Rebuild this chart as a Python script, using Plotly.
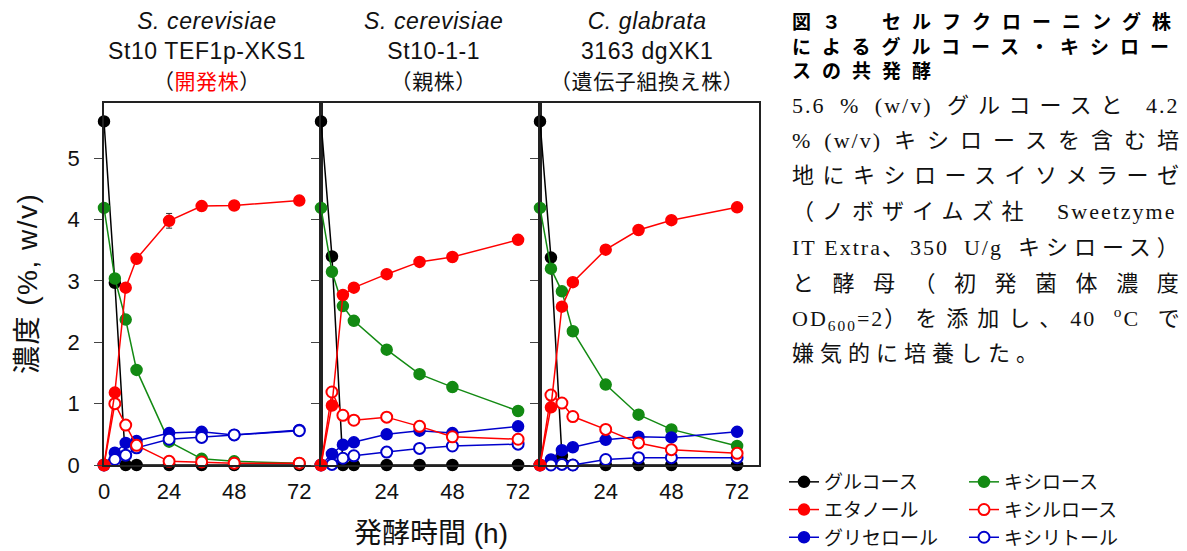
import re
import plotly.graph_objects as go

# Sampling times (h)
hours = [0, 4, 8, 12, 24, 36, 48, 72]

# S. cerevisiae St10 TEF1p-XKS1
dev_glucose = [5.60, 2.97, 0, 0, 0, 0, 0, 0]
dev_xylose = [4.19, 3.04, 2.37, 1.55, 0.38, 0.10, 0.06, 0.03]
dev_ethanol = [0, 1.18, 2.89, 3.36, 3.98, 4.22, 4.23, 4.31]
dev_ethanol_err = [0, 0, 0, 0, 0.12, 0, 0, 0]
dev_xylulose = [0, 1.00, 0.65, 0.32, 0.06, 0.05, 0.03, 0.03]
dev_glycerol = [0, 0.20, 0.36, 0.39, 0.52, 0.54, 0.49, 0.57]
dev_xylitol = [0, 0.09, 0.16, 0.28, 0.42, 0.45, 0.49, 0.56]

# S. cerevisiae St10-1-1
par_glucose = [5.60, 3.40, 0, 0, 0, 0, 0, 0]
par_xylose = [4.19, 3.15, 2.59, 2.35, 1.88, 1.48, 1.27, 0.88]
par_ethanol = [0, 0.97, 2.77, 2.89, 3.11, 3.31, 3.39, 3.67]
par_xylulose = [0, 1.19, 0.81, 0.73, 0.78, 0.63, 0.46, 0.42]
par_glycerol = [0, 0.18, 0.33, 0.37, 0.50, 0.56, 0.52, 0.63]
par_xylitol = [0, 0.01, 0.11, 0.15, 0.21, 0.27, 0.31, 0.34]

# C. glabrata 3163 dgXK1
cg_glucose = [5.60, 3.38, 0.15, 0, 0, 0, 0, 0]
cg_xylose = [4.19, 3.20, 2.83, 2.18, 1.31, 0.82, 0.58, 0.31]
cg_ethanol = [0, 0.94, 2.58, 2.98, 3.51, 3.83, 3.99, 4.20]
cg_xylulose = [0, 1.14, 1.01, 0.79, 0.58, 0.36, 0.25, 0.19]
cg_glycerol = [0, 0.09, 0.24, 0.29, 0.41, 0.46, 0.45, 0.54]
cg_xylitol = [0, 0, 0.01, 0, 0.09, 0.12, 0.12, 0.12]

panel_titles = [
    "<i>S. cerevisiae</i><br>St10 TEF1p-XKS1<br>"
    "<span style='font-size:21px'>（<span style='color:#ff0000'>開発株</span>）</span>",
    "<i>S. cerevisiae</i><br>St10-1-1<br><span style='font-size:21px'>（親株）</span>",
    "<i>C. glabrata</i><br>3163 dgXK1<br><span style='font-size:21px'>（遺伝子組換え株）</span>",
]
x_ticks = [[0, 24, 48, 72], [24, 48, 72], [24, 48, 72]]
y_ticks = [0, 1, 2, 3, 4, 5]

SANS = "Liberation Sans, Arial, Noto Sans CJK JP"
CJK = "Noto Sans CJK JP, Liberation Sans"
SERIF = "Liberation Serif, Noto Sans CJK JP"

BLACK, RED, GREEN, BLUE = "#000000", "#ff0000", "#138a13", "#0000cc"

# name, colour, filled marker, legend, rank, per-panel values (draw order = list order)
series = [
    ("グルコース", BLACK, True, "legend", 1, [dev_glucose, par_glucose, cg_glucose]),
    ("キシロース", GREEN, True, "legend2", 1, [dev_xylose, par_xylose, cg_xylose]),
    ("グリセロール", BLUE, True, "legend", 3, [dev_glycerol, par_glycerol, cg_glycerol]),
    ("キシリトール", BLUE, False, "legend2", 3, [dev_xylitol, par_xylitol, cg_xylitol]),
    ("キシルロース", RED, False, "legend2", 2, [dev_xylulose, par_xylulose, cg_xylulose]),
    ("エタノール", RED, True, "legend", 2, [dev_ethanol, par_ethanol, cg_ethanol]),
]

W, H = 1187, 551
# panel boxes in pixels: left/right edges, top/bottom
edges = [(104, 321), (321, 540), (540, 759)]
top_px, bot_px = 103, 465

fig = go.Figure()

for p in range(3):
    xa = "x" if p == 0 else f"x{p + 1}"
    ya = "y" if p == 0 else f"y{p + 1}"
    for name, col, filled, leg, rank, vals in series:
        err = None
        if name == "エタノール" and p == 0:
            err = dict(type="data", array=dev_ethanol_err, visible=True,
                       color="#333333", thickness=1, width=3)
        fig.add_trace(go.Scatter(
            x=hours, y=vals[p], xaxis=xa, yaxis=ya,
            mode="lines+markers", name=name,
            line=dict(color=col, width=1.5),
            marker=dict(size=11, symbol="circle",
                        color=col if filled else "#ffffff",
                        line=dict(color=col, width=1.5 if filled else 2)),
            error_y=err,
            cliponaxis=False,
            showlegend=(p == 0), legend=leg, legendrank=rank,
        ))

layout_axes = {}
for p in range(3):
    x0, x1 = edges[p]
    key = "" if p == 0 else str(p + 1)
    layout_axes[f"xaxis{key}"] = dict(
        domain=[x0 / W, x1 / W], range=[0, 80], anchor="y" + key,
        tickvals=x_ticks[p], ticktext=[str(v) for v in x_ticks[p]],
        ticks="", showgrid=False, zeroline=False,
        showline=True, mirror=True, linecolor="#222222", linewidth=1.5,
        tickfont=dict(family=SANS, size=22, color="#111111"),
        ticklabelstandoff=6,
    )
    layout_axes[f"yaxis{key}"] = dict(
        domain=[1 - bot_px / H, 1 - top_px / H], range=[0, 5.9],
        anchor="x" + key, tickvals=y_ticks,
        showticklabels=(p == 0), ticks="outside", ticklen=8,
        tickcolor="#444444", tickwidth=1,
        showgrid=False, zeroline=False,
        showline=True, mirror=True, linecolor="#222222", linewidth=1.5,
        tickfont=dict(family=SANS, size=22, color="#111111"),
        ticklabelstandoff=10,
    )

annotations = []
title_centres = [207, 433, 647]
for p in range(3):
    annotations.append(dict(
        text=f"<span style='letter-spacing:0.6px'>{panel_titles[p]}</span>",
        x=title_centres[p] / W, y=1 - 50 / H,
        xref="paper", yref="paper", xanchor="center", yanchor="middle",
        showarrow=False, align="center",
        font=dict(family=SANS, size=23, color="#111111"),
    ))

annotations.append(dict(
    text="<span style='letter-spacing:1.5px'>濃度 (%, w/v)</span>",
    x=27 / W, y=1 - 284 / H, xref="paper", yref="paper",
    textangle=-90, showarrow=False, xanchor="center", yanchor="middle",
    font=dict(family=SANS, size=28, color="#111111"),
))
annotations.append(dict(
    text="発酵時間 (h)", x=431 / W, y=1 - 533 / H, xref="paper", yref="paper",
    showarrow=False, xanchor="center", yanchor="middle",
    font=dict(family=SANS, size=28, color="#111111"),
))

# Figure caption: bold heading, then body lines spread to the block width
caption_title = "図３　セルフクローニング株<br>によるグルコース・キシロー<br>スの共発酵"
annotations.append(dict(
    text=f"<b><span style='letter-spacing:11px'>{caption_title}</span></b>",
    x=790 / W, y=1 - 45 / H, xref="paper", yref="paper",
    xanchor="left", yanchor="middle", showarrow=False, align="left",
    font=dict(family=CJK, size=19, color="#000000"),
))

CJK_RUN = re.compile(r"[\u3000-\u30ff\u4e00-\u9fff\uff00-\uffef]+")
SPACE_RUN = re.compile(r" +")


def spread(line, cjk_ls, space_ls, latin_ls=2):
    """Distribute extra spacing over the line (nothing after the final glyph)."""
    body, last = line[:-1], line[-1]
    body = SPACE_RUN.sub(lambda m: f"<span style='letter-spacing:{space_ls}px'>{m.group(0)}</span>", body)
    body = CJK_RUN.sub(lambda m: f"<span style='letter-spacing:{cjk_ls}px'>{m.group(0)}</span>", body)
    return f"<span style='letter-spacing:{latin_ls}px'>{body}</span>{last}"


caption_body = [
    ("5.6 % (w/v) グルコースと 4.2", 9, 9, 105),
    ("% (w/v) キシロースを含む培", 11, 6.5, 140),
    ("地にキシロースイソメラーゼ", 8.5, 0, 175),
    ("（ノボザイムズ社 Sweetzyme", 8, 20, 211),
    ("IT\u00a0Extra、350 U/g キシロース）", 6, 9.5, 247),
    ("と 酵 母 （ 初 発 菌 体 濃 度", 6.5, 6.5, 283),
    ("OD<sub>600</sub>=2）を添加し、40 <sup>o</sup>C で", 9, 12, 318),
    ("嫌気的に培養した。", 6, 0, 353),
]
for line, c_ls, s_ls, ypx in caption_body:
    annotations.append(dict(
        text=spread(line, c_ls, s_ls),
        x=790 / W, y=1 - ypx / H, xref="paper", yref="paper",
        xanchor="left", yanchor="middle", showarrow=False,
        font=dict(family=SERIF, size=22, color="#111111"),
    ))

legend_style = dict(
    orientation="v", yanchor="top", xanchor="left",
    font=dict(family=CJK, size=19, color="#111111"),
    bgcolor="rgba(0,0,0,0)", borderwidth=0, tracegroupgap=0,
    itemwidth=30,
)

fig.update_layout(
    width=W, height=H,
    margin=dict(l=0, r=0, t=0, b=0, autoexpand=False),
    paper_bgcolor="#ffffff", plot_bgcolor="#ffffff",
    annotations=annotations,
    legend=dict(x=784 / W, y=1 - 463 / H, **legend_style),
    legend2=dict(x=964 / W, y=1 - 463 / H, **legend_style),
    **layout_axes,
)

fig.write_html("out.html")
